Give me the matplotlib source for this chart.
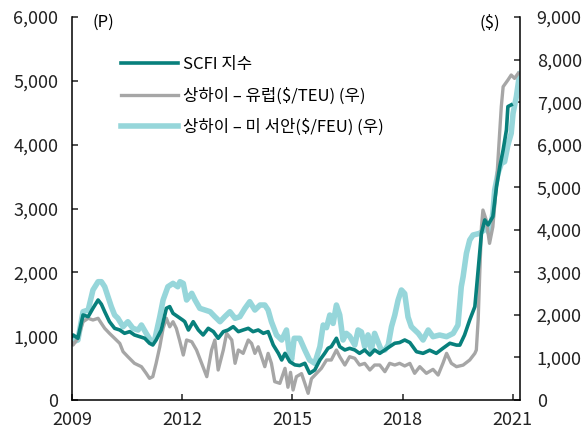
import matplotlib
matplotlib.use("Agg")
from matplotlib import pyplot as plt
from matplotlib.lines import Line2D

plt.rcParams['font.family'] = ['Noto Sans CJK KR', 'DejaVu Sans']

# SCFI index (left axis, P)
scfi_t = [2009.00, 2009.03, 2009.16, 2009.30, 2009.44, 2009.57, 2009.71, 2009.80, 2009.89, 2010.02,
          2010.16, 2010.30, 2010.43, 2010.57, 2010.70, 2010.84, 2010.98, 2011.11, 2011.20, 2011.29,
          2011.43, 2011.57, 2011.66, 2011.75, 2011.88, 2012.02, 2012.07, 2012.17, 2012.30, 2012.44,
          2012.57, 2012.71, 2012.85, 2012.98, 2013.12, 2013.25, 2013.39, 2013.53, 2013.66, 2013.80,
          2013.93, 2014.07, 2014.21, 2014.34, 2014.48, 2014.62, 2014.71, 2014.80, 2014.93, 2015.07,
          2015.20, 2015.34, 2015.47, 2015.61, 2015.75, 2015.88, 2015.97, 2016.06, 2016.20, 2016.29,
          2016.43, 2016.56, 2016.70, 2016.83, 2016.97, 2017.11, 2017.24, 2017.38, 2017.52, 2017.65,
          2017.79, 2017.92, 2018.06, 2018.20, 2018.38, 2018.56, 2018.74, 2018.92, 2019.10, 2019.29,
          2019.47, 2019.56, 2019.69, 2019.83, 2019.97, 2020.06, 2020.15, 2020.24, 2020.33, 2020.46,
          2020.56, 2020.65, 2020.74, 2020.83, 2020.87, 2020.96]
scfi_v = [1000, 1019, 967, 1332, 1306, 1437, 1567, 1500, 1384, 1227,
          1123, 1097, 1045, 1071, 1019, 993, 967, 889, 862, 940,
          1097, 1437, 1463, 1358, 1306, 1250, 1227, 1097, 1227, 1097,
          1019, 1123, 1071, 967, 1071, 1097, 1149, 1071, 1097, 1123,
          1071, 1097, 1045, 1071, 862, 731, 627, 731, 600, 550,
          540, 575, 418, 470, 627, 731, 810, 836, 967, 836,
          784, 810, 784, 731, 784, 705, 784, 731, 784, 836,
          889, 900, 940, 900, 757, 731, 780, 731, 810, 889,
          860, 860, 1019, 1254, 1462, 2038, 2613, 2821, 2743, 2873,
          3343, 3657, 3918, 4232, 4597, 4624]

# Shanghai - Europe ($/TEU, right axis)
eu_t = [2009.00, 2009.03, 2009.16, 2009.30, 2009.44, 2009.57, 2009.71, 2009.80, 2009.89, 2010.02,
        2010.16, 2010.30, 2010.39, 2010.52, 2010.70, 2010.89, 2011.02, 2011.11, 2011.20, 2011.29,
        2011.39, 2011.48, 2011.57, 2011.66, 2011.75, 2011.84, 2011.93, 2012.03, 2012.12, 2012.26,
        2012.39, 2012.53, 2012.67, 2012.80, 2012.89, 2012.98, 2013.12, 2013.21, 2013.35, 2013.44,
        2013.53, 2013.66, 2013.80, 2013.89, 2013.98, 2014.07, 2014.16, 2014.25, 2014.34, 2014.43,
        2014.52, 2014.66, 2014.80, 2014.88, 2014.95, 2015.02, 2015.11, 2015.25, 2015.34, 2015.43,
        2015.52, 2015.66, 2015.79, 2015.93, 2016.06, 2016.20, 2016.29, 2016.43, 2016.56, 2016.70,
        2016.83, 2016.97, 2017.11, 2017.24, 2017.38, 2017.52, 2017.65, 2017.79, 2017.92, 2018.06,
        2018.20, 2018.33, 2018.47, 2018.65, 2018.83, 2018.97, 2019.10, 2019.20, 2019.33, 2019.47,
        2019.65, 2019.83, 2019.97, 2020.01, 2020.06, 2020.10, 2020.15, 2020.19, 2020.28, 2020.37,
        2020.46, 2020.56, 2020.65, 2020.69, 2020.74, 2020.87, 2020.96, 2021.05, 2021.15]
eu_v = [1350, 1292, 1450, 1840, 1920, 1880, 1920, 1800, 1684, 1566,
        1449, 1331, 1136, 1018, 862, 783, 627, 509, 550, 862,
        1253, 1684, 1920, 1720, 1840, 1684, 1400, 1057, 1410, 1370,
        1175, 862, 548, 1175, 1410, 705, 1175, 1566, 1410, 862,
        1175, 1096, 1410, 1330, 1096, 1250, 1018, 783, 1096, 862,
        431, 392, 744, 300, 650, 235, 548, 620, 392, 157,
        500, 627, 744, 940, 940, 1175, 1018, 822, 1018, 980,
        822, 860, 705, 822, 822, 666, 862, 822, 862, 800,
        860, 627, 783, 627, 720, 587, 862, 1096, 862, 783,
        820, 940, 1096, 1175, 1880, 2898, 4072, 4464, 4229, 3681,
        4072, 5091, 6344, 6892, 7362, 7519, 7637, 7558, 7677]

# Shanghai - US West Coast ($/FEU, right axis)
us_t = [2009.00, 2009.03, 2009.16, 2009.30, 2009.44, 2009.57, 2009.71, 2009.80, 2009.89, 2009.98,
        2010.07, 2010.16, 2010.25, 2010.39, 2010.52, 2010.66, 2010.80, 2010.89, 2011.02, 2011.16,
        2011.25, 2011.39, 2011.48, 2011.61, 2011.75, 2011.88, 2011.94, 2012.03, 2012.12, 2012.26,
        2012.35, 2012.48, 2012.62, 2012.76, 2012.89, 2013.03, 2013.16, 2013.30, 2013.44, 2013.57,
        2013.71, 2013.84, 2013.98, 2014.12, 2014.25, 2014.34, 2014.43, 2014.57, 2014.71, 2014.84,
        2014.92, 2014.98, 2015.05, 2015.20, 2015.34, 2015.47, 2015.61, 2015.75, 2015.84, 2015.93,
        2016.02, 2016.11, 2016.20, 2016.29, 2016.38, 2016.47, 2016.56, 2016.70, 2016.79, 2016.88,
        2016.97, 2017.06, 2017.15, 2017.24, 2017.33, 2017.42, 2017.52, 2017.61, 2017.70, 2017.79,
        2017.88, 2017.97, 2018.06, 2018.15, 2018.24, 2018.43, 2018.56, 2018.70, 2018.83, 2019.01,
        2019.20, 2019.38, 2019.51, 2019.60, 2019.65, 2019.74, 2019.83, 2019.92, 2020.10, 2020.28,
        2020.37, 2020.46, 2020.51, 2020.60, 2020.69, 2020.78, 2020.87, 2020.96, 2021.01, 2021.10,
        2021.19]
us_v = [1450, 1370, 1410, 2075, 2115, 2585, 2780, 2780, 2662, 2427,
        2193, 1997, 1920, 1723, 1840, 1684, 1645, 1762, 1566, 1370,
        1410, 1958, 2350, 2662, 2741, 2662, 2780, 2740, 2350, 2507,
        2350, 2154, 2115, 2075, 1958, 1840, 1958, 2075, 1920, 1958,
        2154, 2310, 2115, 2232, 2232, 2115, 1840, 1527, 1410, 1645,
        1100, 950, 1450, 1449, 1175, 940, 862, 1253, 1762, 1700,
        1997, 1800, 2232, 2000, 1410, 1566, 1500, 1292, 1645, 1600,
        1253, 1530, 1175, 1566, 1370, 1175, 1175, 1292, 1723, 1997,
        2350, 2585, 2500, 1950, 1723, 1566, 1410, 1645, 1488, 1527,
        1488, 1566, 1762, 2662, 2898, 3447, 3759, 3877, 3916, 4034,
        3916, 4387, 4934, 5326, 5561, 5600, 5992, 6266, 6736, 7127,
        7677]

fig = plt.figure(figsize=(5.87, 4.33), dpi=100)
ax = fig.add_axes([0.1227, 0.0762, 0.7632, 0.8845])
ax2 = ax.twinx()
# SCFI on top of the two right-axis lines
ax.set_zorder(ax2.get_zorder() + 1)
ax.patch.set_visible(False)

ax2.plot(us_t, us_v, color='#96d6da', linewidth=4.0, solid_joinstyle='round', solid_capstyle='round')
ax2.plot(eu_t, eu_v, color='#a6a6a6', linewidth=2.4, solid_joinstyle='round')
ax.plot(scfi_t, scfi_v, color='#08807c', linewidth=2.6, solid_joinstyle='round')

ax.set_xlim(2009, 2021.2)
ax.set_ylim(0, 6000)
ax2.set_ylim(0, 9000)
ax.set_xticks([2009, 2012, 2015, 2018, 2021])
ax.set_xticklabels(['2009', '2012', '2015', '2018', '2021'])
ax.set_yticks(range(0, 6001, 1000))
ax.set_yticklabels([f"{v:,}" for v in range(0, 6001, 1000)])
ax2.set_yticks(range(0, 9001, 1000))
ax2.set_yticklabels([f"{v:,}" for v in range(0, 9001, 1000)])

for a in (ax, ax2):
    a.spines['top'].set_visible(False)
    for s in a.spines.values():
        s.set_linewidth(1.1)
        s.set_color('black')
    a.tick_params(direction='in', length=4, width=1.1, labelsize=13, colors='#222222')
ax.spines['right'].set_visible(False)
ax2.spines['left'].set_visible(False)
ax2.spines['bottom'].set_visible(False)
ax.tick_params(axis='y', pad=10)
ax.tick_params(axis='x', pad=8)
ax2.tick_params(axis='y', pad=12)

ax.text(0.045, 0.985, '(P)', transform=ax.transAxes, fontsize=12, va='center')
ax.text(0.91, 0.985, '($)', transform=ax.transAxes, fontsize=12, va='center')

handles = [Line2D([], [], color='#08807c', linewidth=2.6),
           Line2D([], [], color='#a6a6a6', linewidth=2.4),
           Line2D([], [], color='#96d6da', linewidth=4.0)]
labels = ['SCFI 지수', '상하이 – 유럽($/TEU) (우)', '상하이 – 미 서안($/FEU) (우)']
ax.legend(handles, labels, loc='upper left', bbox_to_anchor=(0.095, 0.915), frameon=False,
          fontsize=12, handlelength=3.4, handletextpad=0.3, labelspacing=0.85, borderaxespad=0)

fig.savefig('out.png', dpi=100)
